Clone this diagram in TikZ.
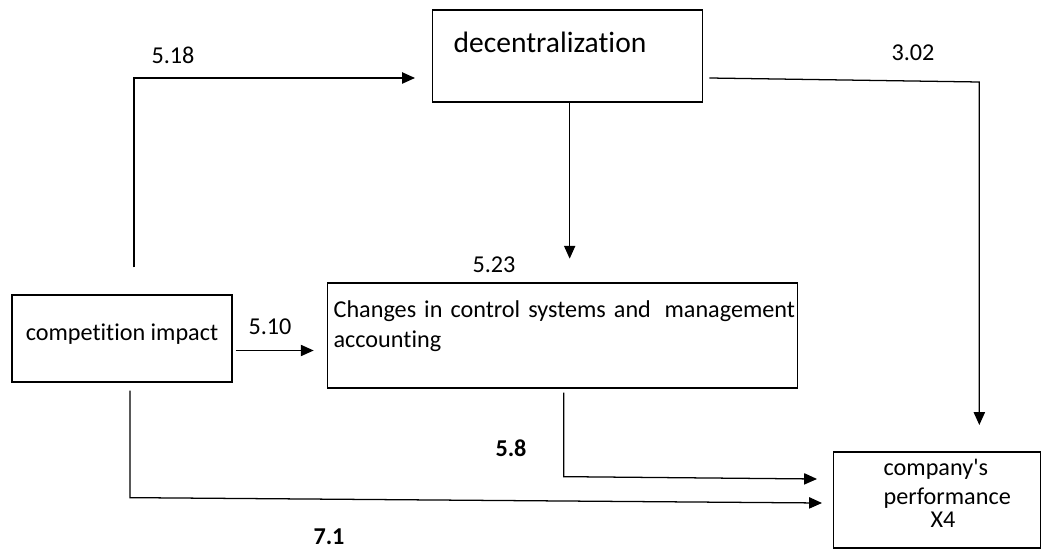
\documentclass[tikz,border=0pt]{standalone}
\usepackage{fontspec}
\setmainfont{Carlito}[Ligatures=NoCommon]
\usetikzlibrary{arrows.meta,calc}

\tikzset{
  box/.style={draw, line width=0.9pt, inner ysep=0pt, align=left,
    font=\fontsize{17.2}{21.3}\selectfont},
  arr/.style={-{Triangle[length=0.32cm,width=0.28cm]}, line width=0.9pt},
  coef/.style={font=\fontsize{17.2}{21}\selectfont, inner sep=0pt},
  coefb/.style={font=\fontsize{17.2}{21}\selectfont\bfseries, inner sep=0pt},
}

\begin{document}
\begin{tikzpicture}[x=0.025cm, y=-0.025cm]
  \useasboundingbox (0,0) rectangle (1041,551);

  % boxes
  \node[box, anchor=base west, inner xsep=0.525cm, text width=5.7cm,
        text height=1.075cm, text depth=1.225cm,
        font=\fontsize{21}{25}\selectfont] (decent) at (432,53) {decentralization};
  \node[box, anchor=base, align=center, minimum width=5.5cm,
        text height=1.15cm, text depth=1.025cm] (comp) at (122,341) {competition impact};
  \node[box, anchor=base west, inner xsep=0.15cm, text width=11.45cm,
        text height=0.875cm, text depth=1.75cm] (ctrl) at (327,318)
    {\mbox{Changes in control systems and\hspace{4pt} management}\\accounting};
  \node[box, anchor=base west, inner xsep=0pt, text width=5.175cm,
        text height=0.575cm, text depth=1.825cm] (perf) at (833,475)
    {\hspace*{1.25cm}company\textquotesingle s\\\hspace*{1.25cm}performance\\[-5.6pt]\hspace*{2.425cm}X4};

  % coefficients
  \node[coef] (c518) at (173,55) {5.18};
  \node[coef] (c302) at (913,53) {3.02};
  \node[coef] (c523) at (494,265) {5.23};
  \node[coef] (c510) at (270,327) {5.10};
  \node[coefb] (c58) at (511,448) {5.8};
  \node[coefb] (c71) at (329,537) {7.1};

  % paths
  \draw[arr] ($(comp.north)+(12,-27)$) |- ($(decent.west)+(-17,22)$);
  \draw[arr] (decent.south) ++(2,0) -- ++(0,156);
  \draw[arr] ($(decent.east)+(6,22)$) -- ++(270,4) -- ++(0,343);
  \draw[arr] ($(comp.east)+(3,12)$) -- ++(78,0);
  \draw[arr] ($(ctrl.south)+(1,4)$) -- ++(0,84) -- ($(perf.west)+(-16,-21)$);
  \draw[arr] ($(comp.south)+(8,8)$) -- ++(0,107) -- ($(perf.west)+(-11,3)$);
\end{tikzpicture}
\end{document}
